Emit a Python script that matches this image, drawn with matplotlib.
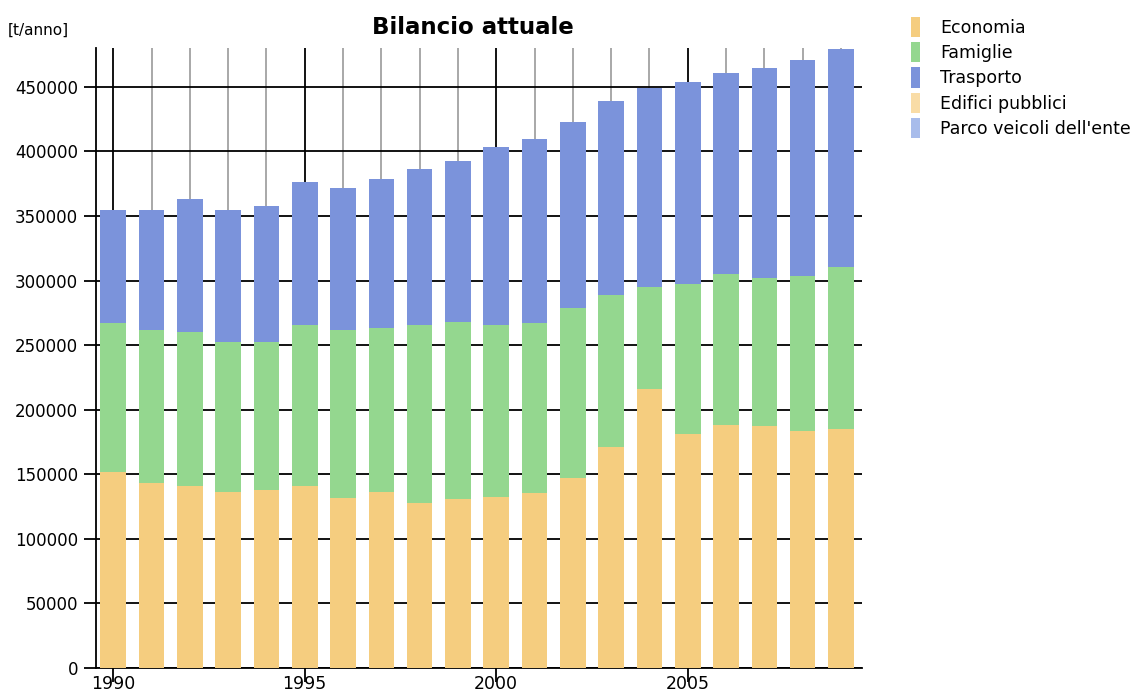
import numpy as np
import matplotlib
matplotlib.use("Agg")
import matplotlib.pyplot as plt

years = np.arange(1990, 2010)

economia = [152000, 143500, 141000, 136300, 137900, 141000, 131900, 136300, 127800, 130700,
            132200, 135300, 146900, 170900, 216100, 181200, 188200, 187400, 183800, 185100]
famiglie = [115000, 118300, 119000, 116400, 114300, 124700, 129900, 126800, 137900, 137500,
            133500, 131700, 131700, 118000, 78700, 116200, 116700, 114900, 119800, 125700]
trasporto = [87200, 92400, 103200, 101500, 105100, 110400, 109700, 115600, 120500, 124000,
             138000, 142400, 144000, 149800, 154200, 155900, 155600, 162600, 167000, 168400]
edifici = [0] * 20
parco = [0] * 20

labels = ["Economia", "Famiglie", "Trasporto", "Edifici pubblici", "Parco veicoli dell'ente"]
colors = ["#F5CD7F", "#94D78F", "#7B93DB", "#F9DCA6", "#A8BCEB"]

fig = plt.figure(figsize=(11.33, 6.95), dpi=100)
ax = fig.add_axes([96/1133, 1-668/695, (862-96)/1133, (668-48)/695])

bottom = np.zeros(len(years))
handles = []
for vals, lab, col in zip([economia, famiglie, trasporto, edifici, parco], labels, colors):
    b = ax.bar(years, vals, bottom=bottom, width=0.67, color=col, label=lab, zorder=3)
    handles.append(b)
    bottom = bottom + np.array(vals)

ax.set_xlim(1989.55, 2009.55)
ax.set_ylim(0, 480000)
ax.set_yticks(np.arange(0, 450001, 50000))
ax.set_xticks([1990, 1995, 2000, 2005])
ax.set_xticks(years, minor=True)
ax.set_axisbelow(True)
ax.grid(axis='y', color='black', lw=1.3)
ax.grid(axis='x', which='major', color='black', lw=1.3)
ax.grid(axis='x', which='minor', color='#999999', lw=1.2)

for s in ['top', 'right']:
    ax.spines[s].set_visible(False)
for s in ['left', 'bottom']:
    ax.spines[s].set_linewidth(1.3)

ax.tick_params(axis='y', length=9, width=1.3, pad=4, labelsize=12)
ax.tick_params(axis='x', which='major', length=10, width=1.3, pad=-5, labelsize=12.5)
ax.tick_params(axis='x', which='minor', length=0)

fig.text(473/1133, 1-27/695, "Bilancio attuale", ha='center', va='center',
         fontsize=16.5, fontweight='bold')
fig.text(8/1133, 1-30/695, "[t/anno]", ha='left', va='center', fontsize=11)

fig.legend(handles=handles, labels=labels, loc='upper left',
           bbox_to_anchor=(904/1133, 1-10/695), frameon=False, fontsize=12.5,
           handlelength=0.52, handleheight=1.4, handletextpad=1.15, labelspacing=0.3,
           borderaxespad=0)

fig.savefig("out.png", dpi=100)
